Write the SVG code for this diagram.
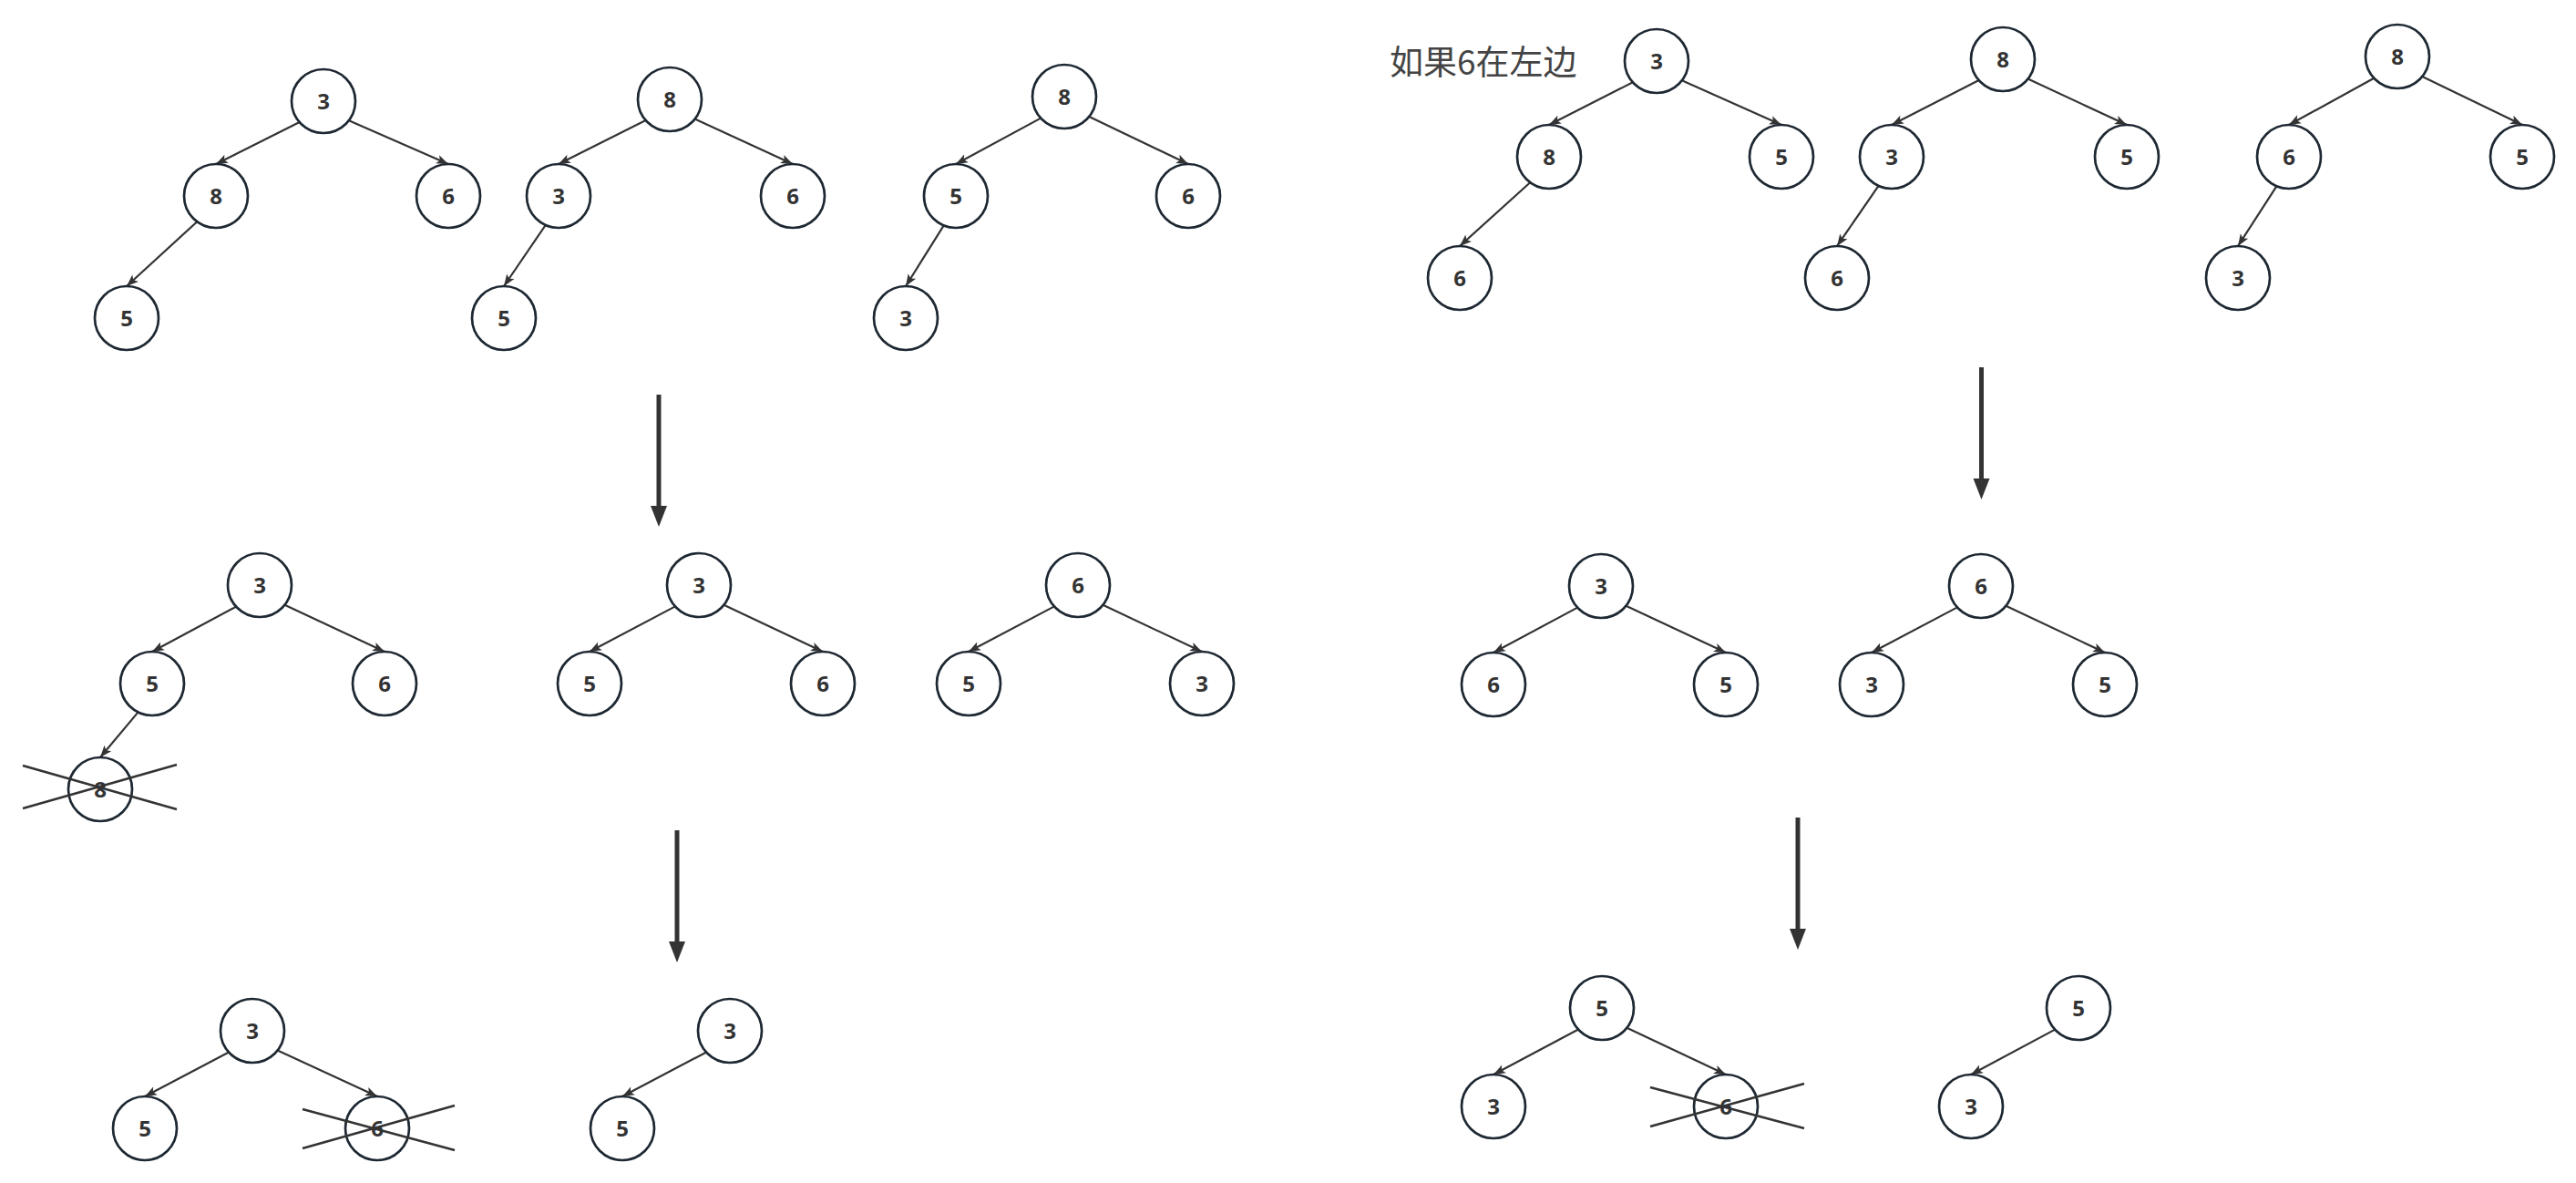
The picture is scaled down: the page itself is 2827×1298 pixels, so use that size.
<svg xmlns="http://www.w3.org/2000/svg" width="2827" height="1298" viewBox="0 0 2827 1298">
<style>
.n circle{fill:#fff;stroke:#1e2832;stroke-width:2.7}
.n text{font-family:"Open Sans","DejaVu Sans",sans-serif;font-weight:700;font-size:24px;fill:#333;text-anchor:middle}
.e line{stroke:#333;stroke-width:2.2;marker-end:url(#ah)}
.big line{stroke:#333;stroke-width:5;marker-end:url(#bh)}
.x line{stroke:#333;stroke-width:2.5}
.lbl{font-family:"Noto Sans CJK SC","Noto Sans",sans-serif;font-size:37px;fill:#444}
</style>
<defs>
<marker id="ah" markerUnits="userSpaceOnUse" markerWidth="15" markerHeight="11" refX="13" refY="5" orient="auto" overflow="visible">
<path d="M0,0 L13,5 L0,10 L3,5 z" fill="#333"/>
</marker>
<marker id="bh" markerUnits="userSpaceOnUse" markerWidth="24" markerHeight="19" refX="0" refY="9" orient="auto" overflow="visible">
<path d="M0,0 L23,9 L0,18 z" fill="#333"/>
</marker>
</defs>
<rect width="2827" height="1298" fill="#fff"/>
<text class="lbl" x="1525" y="82">如果6在左边</text>
<g id="connectors">
<g class="e">
<line x1="328.7" y1="134.1" x2="237" y2="180"/>
<line x1="382.9" y1="132.2" x2="492" y2="180"/>
<line x1="216.3" y1="243.2" x2="139" y2="314"/>
<line x1="708.6" y1="132" x2="613" y2="180"/>
<line x1="762.5" y1="130.6" x2="870" y2="180"/>
<line x1="598.7" y1="247" x2="553" y2="314"/>
<line x1="1142.2" y1="129.6" x2="1049" y2="180"/>
<line x1="1195.3" y1="127.9" x2="1304" y2="180"/>
<line x1="1035.7" y1="247.4" x2="994" y2="314"/>
<line x1="1791.9" y1="90.3" x2="1700" y2="137"/>
<line x1="1845.8" y1="88.3" x2="1955" y2="137"/>
<line x1="1679.2" y1="200.2" x2="1602" y2="270"/>
<line x1="2171.7" y1="88.1" x2="2076" y2="137"/>
<line x1="2225.5" y1="86.6" x2="2334" y2="137"/>
<line x1="2061.6" y1="203.9" x2="2016" y2="270"/>
<line x1="2605.3" y1="85.8" x2="2512" y2="137"/>
<line x1="2658.3" y1="83.9" x2="2768" y2="137"/>
<line x1="2498.4" y1="204.3" x2="2456" y2="270"/>
<line x1="259.2" y1="665.6" x2="167" y2="715"/>
<line x1="312.5" y1="663.7" x2="422" y2="715"/>
<line x1="151.6" y1="781.4" x2="110" y2="831"/>
<line x1="741" y1="665.4" x2="647" y2="715"/>
<line x1="794.4" y1="663.8" x2="903" y2="715"/>
<line x1="1157" y1="665.4" x2="1063" y2="715"/>
<line x1="1210.4" y1="663.8" x2="1319" y2="715"/>
<line x1="1731.2" y1="666.6" x2="1639" y2="716"/>
<line x1="1784.5" y1="664.7" x2="1894" y2="716"/>
<line x1="2148" y1="666.4" x2="2054" y2="716"/>
<line x1="2201.4" y1="664.8" x2="2310" y2="716"/>
<line x1="251.1" y1="1154.5" x2="159" y2="1203"/>
<line x1="304.6" y1="1152.6" x2="414" y2="1203"/>
<line x1="775.1" y1="1154.5" x2="683" y2="1203"/>
<line x1="1732.1" y1="1129.5" x2="1639" y2="1179"/>
<line x1="1785.4" y1="1127.8" x2="1894" y2="1179"/>
<line x1="2255.2" y1="1129.6" x2="2163" y2="1179"/>
</g>
<g class="big">
<line x1="723" y1="433" x2="723" y2="555"/>
<line x1="2174.5" y1="403" x2="2174.5" y2="525"/>
<line x1="743" y1="911" x2="743" y2="1033"/>
<line x1="1973" y1="897" x2="1973" y2="1019"/>
</g>
</g>
<g id="nodes">
<g id="n1a" class="n"><circle cx="355" cy="111" r="35"/><text x="355" y="120">3</text></g>
<g id="n1b" class="n"><circle cx="237" cy="215" r="35"/><text x="237" y="224">8</text></g>
<g id="n1c" class="n"><circle cx="492" cy="215" r="35"/><text x="492" y="224">6</text></g>
<g id="n1d" class="n"><circle cx="139" cy="349" r="35"/><text x="139" y="358">5</text></g>
<g id="n2a" class="n"><circle cx="735" cy="109" r="35"/><text x="735" y="118">8</text></g>
<g id="n2b" class="n"><circle cx="613" cy="215" r="35"/><text x="613" y="224">3</text></g>
<g id="n2c" class="n"><circle cx="870" cy="215" r="35"/><text x="870" y="224">6</text></g>
<g id="n2d" class="n"><circle cx="553" cy="349" r="35"/><text x="553" y="358">5</text></g>
<g id="n3a" class="n"><circle cx="1168" cy="106" r="35"/><text x="1168" y="115">8</text></g>
<g id="n3b" class="n"><circle cx="1049" cy="215" r="35"/><text x="1049" y="224">5</text></g>
<g id="n3c" class="n"><circle cx="1304" cy="215" r="35"/><text x="1304" y="224">6</text></g>
<g id="n3d" class="n"><circle cx="994" cy="349" r="35"/><text x="994" y="358">3</text></g>
<g id="n4a" class="n"><circle cx="1818" cy="67" r="35"/><text x="1818" y="76">3</text></g>
<g id="n4b" class="n"><circle cx="1700" cy="172" r="35"/><text x="1700" y="181">8</text></g>
<g id="n4c" class="n"><circle cx="1955" cy="172" r="35"/><text x="1955" y="181">5</text></g>
<g id="n4d" class="n"><circle cx="1602" cy="305" r="35"/><text x="1602" y="314">6</text></g>
<g id="n5a" class="n"><circle cx="2198" cy="65" r="35"/><text x="2198" y="74">8</text></g>
<g id="n5b" class="n"><circle cx="2076" cy="172" r="35"/><text x="2076" y="181">3</text></g>
<g id="n5c" class="n"><circle cx="2334" cy="172" r="35"/><text x="2334" y="181">5</text></g>
<g id="n5d" class="n"><circle cx="2016" cy="305" r="35"/><text x="2016" y="314">6</text></g>
<g id="n6a" class="n"><circle cx="2631" cy="62" r="35"/><text x="2631" y="71">8</text></g>
<g id="n6b" class="n"><circle cx="2512" cy="172" r="35"/><text x="2512" y="181">6</text></g>
<g id="n6c" class="n"><circle cx="2768" cy="172" r="35"/><text x="2768" y="181">5</text></g>
<g id="n6d" class="n"><circle cx="2456" cy="305" r="35"/><text x="2456" y="314">3</text></g>
<g id="n7a" class="n"><circle cx="285" cy="642" r="35"/><text x="285" y="651">3</text></g>
<g id="n7b" class="n"><circle cx="167" cy="750" r="35"/><text x="167" y="759">5</text></g>
<g id="n7c" class="n"><circle cx="422" cy="750" r="35"/><text x="422" y="759">6</text></g>
<g id="n7d" class="n"><circle cx="110" cy="866" r="35"/><text x="110" y="875">8</text></g>
<g id="n8a" class="n"><circle cx="767" cy="642" r="35"/><text x="767" y="651">3</text></g>
<g id="n8b" class="n"><circle cx="647" cy="750" r="35"/><text x="647" y="759">5</text></g>
<g id="n8c" class="n"><circle cx="903" cy="750" r="35"/><text x="903" y="759">6</text></g>
<g id="n9a" class="n"><circle cx="1183" cy="642" r="35"/><text x="1183" y="651">6</text></g>
<g id="n9b" class="n"><circle cx="1063" cy="750" r="35"/><text x="1063" y="759">5</text></g>
<g id="n9c" class="n"><circle cx="1319" cy="750" r="35"/><text x="1319" y="759">3</text></g>
<g id="n10a" class="n"><circle cx="1757" cy="643" r="35"/><text x="1757" y="652">3</text></g>
<g id="n10b" class="n"><circle cx="1639" cy="751" r="35"/><text x="1639" y="760">6</text></g>
<g id="n10c" class="n"><circle cx="1894" cy="751" r="35"/><text x="1894" y="760">5</text></g>
<g id="n11a" class="n"><circle cx="2174" cy="643" r="35"/><text x="2174" y="652">6</text></g>
<g id="n11b" class="n"><circle cx="2054" cy="751" r="35"/><text x="2054" y="760">3</text></g>
<g id="n11c" class="n"><circle cx="2310" cy="751" r="35"/><text x="2310" y="760">5</text></g>
<g id="n12a" class="n"><circle cx="277" cy="1131" r="35"/><text x="277" y="1140">3</text></g>
<g id="n12b" class="n"><circle cx="159" cy="1238" r="35"/><text x="159" y="1247">5</text></g>
<g id="n12c" class="n"><circle cx="414" cy="1238" r="35"/><text x="414" y="1247">6</text></g>
<g id="n13a" class="n"><circle cx="801" cy="1131" r="35"/><text x="801" y="1140">3</text></g>
<g id="n13b" class="n"><circle cx="683" cy="1238" r="35"/><text x="683" y="1247">5</text></g>
<g id="n14a" class="n"><circle cx="1758" cy="1106" r="35"/><text x="1758" y="1115">5</text></g>
<g id="n14b" class="n"><circle cx="1639" cy="1214" r="35"/><text x="1639" y="1223">3</text></g>
<g id="n14c" class="n"><circle cx="1894" cy="1214" r="35"/><text x="1894" y="1223">6</text></g>
<g id="n15a" class="n"><circle cx="2281" cy="1106" r="35"/><text x="2281" y="1115">5</text></g>
<g id="n15b" class="n"><circle cx="2163" cy="1214" r="35"/><text x="2163" y="1223">3</text></g>
</g>
<g id="strikes" class="x">
<line x1="25" y1="840" x2="194" y2="888"/>
<line x1="25" y1="887" x2="194" y2="839"/>
<line x1="332" y1="1217" x2="499" y2="1262"/>
<line x1="332" y1="1260" x2="499" y2="1213"/>
<line x1="1811" y1="1193" x2="1980" y2="1238"/>
<line x1="1811" y1="1236" x2="1980" y2="1189"/>
</g>
</svg>
